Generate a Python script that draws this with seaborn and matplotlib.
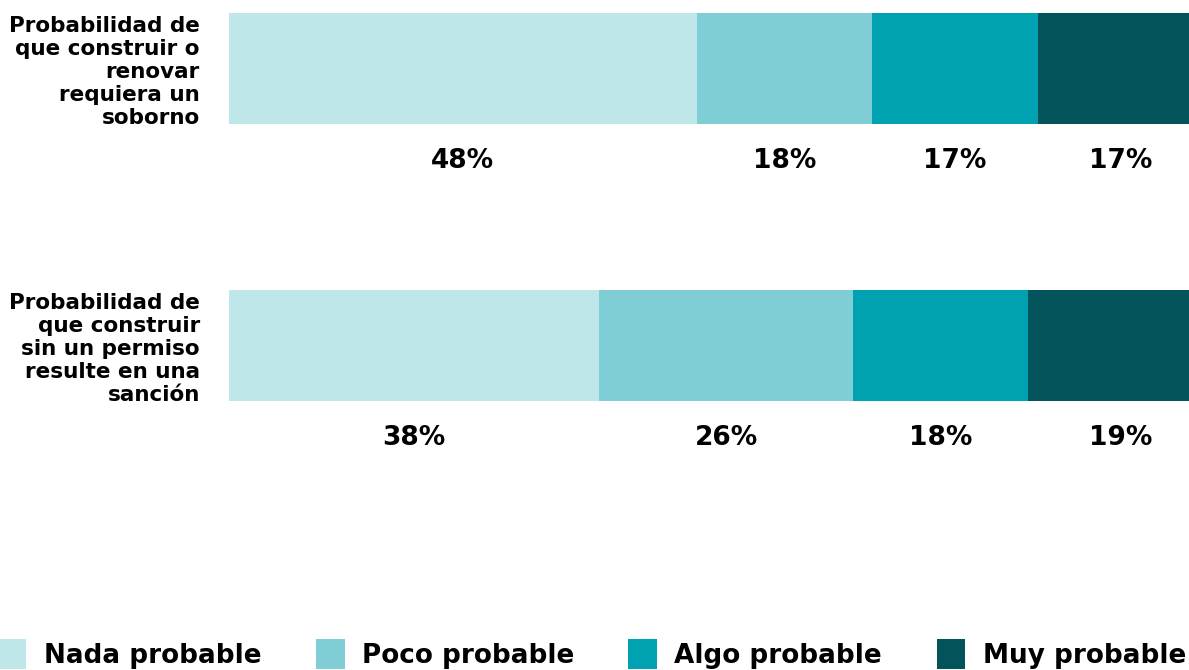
import matplotlib
matplotlib.use("Agg")
import matplotlib.pyplot as plt
import seaborn as sns
import pandas as pd
import numpy as np
from matplotlib.patches import Patch

categories = [
    "Probabilidad de\nque construir o\nrenovar\nrequiera un\nsoborno",
    "Probabilidad de\nque construir\nsin un permiso\nresulte en una\nsanción",
]
series = ["Nada probable", "Poco probable", "Algo probable", "Muy probable"]
nada = [48, 38]
poco = [18, 26]
algo = [17, 18]
muy = [17, 19]
colors = ["#BFE7E9", "#7FCED6", "#00A1B1", "#03535A"]

sns.set_theme(style="white")
plt.rcParams["font.family"] = ["DejaVu Sans"]
plt.rcParams["font.weight"] = "bold"
plt.rcParams["text.color"] = "black"

values = np.array([nada, poco, algo, muy], dtype=float)
cum = np.cumsum(values, axis=0)

fig = plt.figure(figsize=(11.89, 6.70), dpi=100)
ax = fig.add_axes([229 / 1189, (670 - 401) / 670, 1 - 229 / 1189, 388 / 670])

# draw stacked bars: largest cumulative first
for i in range(len(series) - 1, -1, -1):
    df = pd.DataFrame({"cat": categories, "val": cum[i]})
    sns.barplot(data=df, y="cat", x="val", orient="h", color=colors[i],
                width=0.4, ax=ax, saturation=1, edgecolor="none", label=series[i])

ax.set_xlim(0, 98.5)
ax.set_ylim(1.2, -0.2)

# value labels below each segment
for i in range(len(series)):
    for j in range(len(categories)):
        left = cum[i][j] - values[i][j]
        ax.text(left + values[i][j] / 2, j + 0.335, f"{int(values[i][j])}%",
                ha="center", va="center", fontsize=19, fontweight="bold",
                color="black", clip_on=False)

ax.set_xlabel("")
ax.set_ylabel("")
ax.set_xticks([])
ax.tick_params(axis="y", length=0, pad=21, labelsize=15.5, labelcolor="black")
for lab in ax.get_yticklabels():
    lab.set_fontweight("bold")
    lab.set_linespacing(1.18)
    lab.set_multialignment("right")
for s in ax.spines.values():
    s.set_visible(False)

if ax.get_legend() is not None:
    ax.get_legend().remove()

handles = [Patch(facecolor=c, edgecolor="none") for c in colors]
leg = fig.legend(handles, series, loc="center left", bbox_to_anchor=(-0.002, 16 / 670),
                 ncol=4, frameon=False, handlelength=1.1, handleheight=1.4,
                 handletextpad=0.65, columnspacing=2.08, borderpad=0, borderaxespad=0,
                 prop={"weight": "bold", "size": 18.9})
for t in leg.get_texts():
    t.set_color("black")

fig.savefig("out.png", dpi=100)
